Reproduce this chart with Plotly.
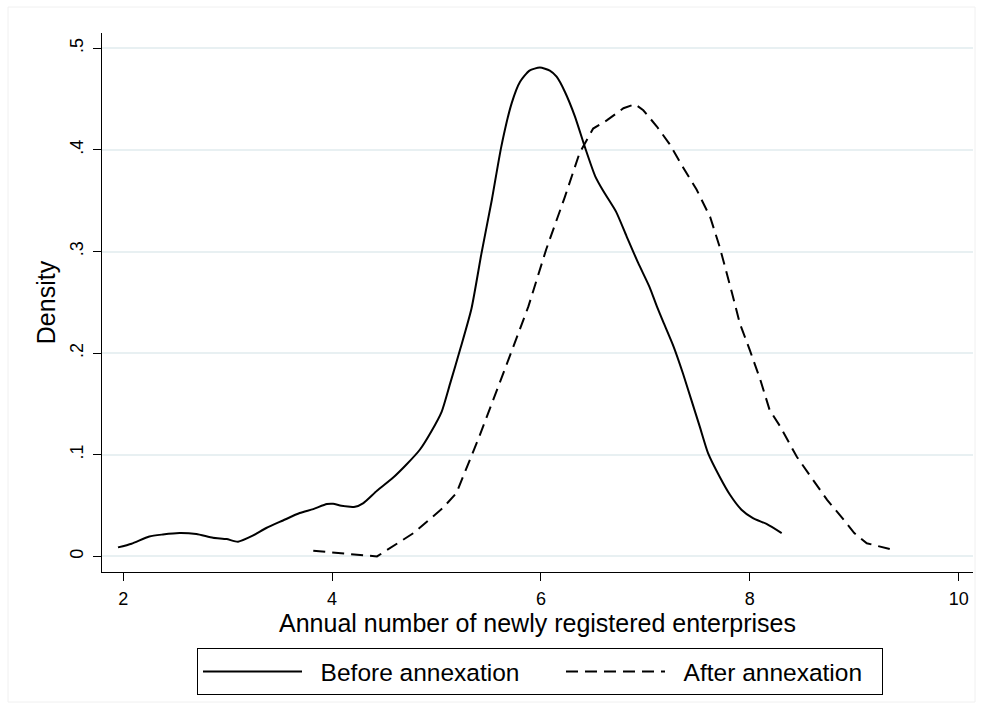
import plotly.graph_objects as go

# ---- data ----
before_x = [1.95, 2.08, 2.25, 2.38, 2.54, 2.70, 2.86, 2.99, 3.10, 3.24, 3.37, 3.53, 3.69,
            3.82, 3.95, 4.01, 4.09, 4.22, 4.30, 4.43, 4.58, 4.71, 4.84, 4.95, 5.05, 5.13,
            5.23, 5.335, 5.43, 5.53, 5.62, 5.72, 5.80, 5.89, 5.99, 6.085, 6.15, 6.23, 6.325,
            6.42, 6.52, 6.60, 6.72, 6.82, 6.93, 7.04, 7.11, 7.17, 7.27, 7.36, 7.44, 7.52,
            7.60, 7.71, 7.81, 7.92, 8.03, 8.16, 8.305]
before_y = [0.0089, 0.0125, 0.0197, 0.0216, 0.023, 0.022, 0.0184, 0.0171, 0.0145, 0.0204,
            0.028, 0.0354, 0.0427, 0.0466, 0.0515, 0.0518, 0.0498, 0.0489, 0.0525, 0.0646,
            0.0771, 0.0902, 0.105, 0.123, 0.1426, 0.170, 0.205, 0.244, 0.298, 0.351, 0.403,
            0.446, 0.467, 0.478, 0.481, 0.478, 0.472, 0.457, 0.433, 0.403, 0.374, 0.359,
            0.339, 0.315, 0.289, 0.265, 0.246, 0.231, 0.2065, 0.180, 0.154, 0.128, 0.1017,
            0.0787, 0.0607, 0.046, 0.0377, 0.032, 0.023]

after_x = [3.82, 4.07, 4.43, 4.78, 5.06, 5.19, 5.41, 5.65, 5.88, 6.05, 6.23, 6.37, 6.50,
           6.63, 6.79, 6.90, 6.98, 7.11, 7.23, 7.36, 7.49, 7.62, 7.71, 7.83, 7.905, 8.00,
           8.10, 8.19, 8.29, 8.45, 8.58, 8.74, 8.90, 9.00, 9.12, 9.34]
after_y = [0.0056, 0.0033, 0.0, 0.023, 0.0476, 0.0623, 0.118, 0.183, 0.246, 0.302, 0.354,
           0.397, 0.421, 0.429, 0.441, 0.445, 0.439, 0.423, 0.406, 0.383, 0.361, 0.334,
           0.305, 0.259, 0.229, 0.203, 0.174, 0.144, 0.128, 0.098, 0.0787, 0.0557, 0.036,
           0.023, 0.013, 0.0073]

x_ticks = [2, 4, 6, 8, 10]
x_ticklabels = ["2", "4", "6", "8", "10"]
y_ticks = [0, 0.1, 0.2, 0.3, 0.4, 0.5]
y_ticklabels = ["0", ".1", ".2", ".3", ".4", ".5"]

series_names = ["Before annexation", "After annexation"]
x_title = "Annual number of newly registered enterprises"
y_title = "Density"

FONT = "Liberation Sans, Arial, Helvetica, sans-serif"
NB = "\u00a0\u00a0"

fig = go.Figure()
fig.add_trace(go.Scatter(x=before_x, y=before_y, mode="lines", name=NB + series_names[0],
                         legendwidth=249,
                         line=dict(color="black", width=2, shape="spline", smoothing=0.6)))
fig.add_trace(go.Scatter(x=after_x, y=after_y, mode="lines", name=NB + series_names[1],
                         legendwidth=207,
                         line=dict(color="black", width=2, dash="12px,7px")))

W, H = 983, 709
L, R, T, B = 102, 10, 33, 137
PW, PH = W - L - R, H - T - B

fig.update_layout(
    width=W, height=H,
    margin=dict(l=L, r=R, t=T, b=B, pad=0),
    paper_bgcolor="white", plot_bgcolor="white",
    font=dict(family=FONT, color="black"),
    xaxis=dict(range=[1.797, 10.137], tickvals=x_ticks, ticktext=x_ticklabels,
               automargin=False,
               showgrid=False, zeroline=False, showline=True, linecolor="black", linewidth=1.3,
               ticks="outside", ticklen=8, tickwidth=1.3, tickcolor="black",
               ticklabelstandoff=2,
               tickfont=dict(size=18, family=FONT),
               title=dict(text=x_title, font=dict(size=25, family=FONT), standoff=0)),
    yaxis=dict(range=[-0.0153, 0.515], tickvals=y_ticks, ticktext=y_ticklabels,
               automargin=False,
               showgrid=True, gridcolor="#E8F0F2", gridwidth=1.5, zeroline=False,
               showline=True, linecolor="black", linewidth=1.3,
               ticks="outside", ticklen=8, tickwidth=1.3, tickcolor="black",
               ticklabelstandoff=3,
               tickangle=-90, tickfont=dict(size=18, family=FONT),
               title=dict(text=y_title, font=dict(size=25, family=FONT), standoff=3)),
    legend=dict(orientation="h", x=(197 - L) / PW, y=-(648 - (H - B)) / PH,
                xanchor="left", yanchor="top",
                bordercolor="black", borderwidth=1, bgcolor="white",
                font=dict(size=24.5, family=FONT), itemwidth=99),
    showlegend=True,
    shapes=[dict(type="rect", xref="paper", yref="paper",
                 x0=-(L - 8) / PW, x1=1 + 2 / PW,
                 y0=-(B - 7) / PH, y1=1 + (T - 7) / PH,
                 line=dict(color="#F0F0F0", width=1), layer="below")],
)

fig.write_html("out.html", config={"displayModeBar": False},
               post_script="document.body.style.margin='0';document.body.style.padding='0';")
